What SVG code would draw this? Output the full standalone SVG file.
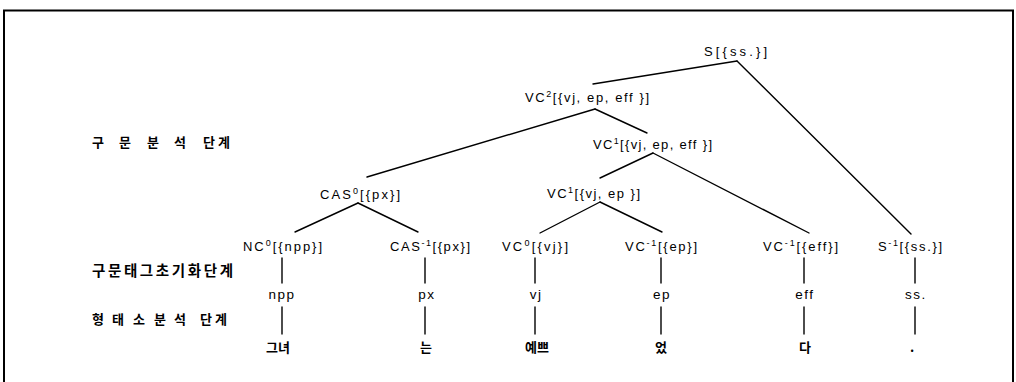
<svg xmlns="http://www.w3.org/2000/svg" width="1016" height="382" viewBox="0 0 1016 382">
<style>
.t{font-family:"Liberation Sans",Arial,sans-serif;font-size:13px;fill:#000}
.m{font-family:"Liberation Sans",Arial,sans-serif;font-size:13.5px;fill:#000;text-anchor:middle;letter-spacing:1.5px}
.s{font-size:9px}
.k{font-family:"Noto Sans CJK KR","Noto Sans",sans-serif;font-size:13px;font-weight:bold;fill:#000}
.w{font-family:"Noto Sans CJK KR","Noto Sans",sans-serif;font-size:13px;font-weight:bold;fill:#000;text-anchor:middle}
.c{stroke:#000;stroke-width:1.4;fill:none;stroke-linecap:round}
</style>
<rect x="0" y="0" width="1016" height="382" fill="#fff"/>
<path d="M4,400 V10.5 H1013 V400" fill="none" stroke="#000" stroke-width="2"/>

<g id="stages">
<text class="k" y="147"><tspan x="92">구</tspan><tspan x="119">문</tspan><tspan x="147">분</tspan><tspan x="174">석</tspan><tspan x="203">단</tspan><tspan x="218">계</tspan></text>
<text class="k" x="92" y="276" style="font-size:14.5px" textLength="141" lengthAdjust="spacing">구문태그초기화단계</text>
<text class="k" y="324"><tspan x="92">형</tspan><tspan x="112">태</tspan><tspan x="133">소</tspan><tspan x="154">분</tspan><tspan x="174">석</tspan><tspan x="200">단</tspan><tspan x="215">계</tspan></text>
</g>

<g id="connectors" class="c">
<line x1="737" y1="61" x2="593" y2="84"/>
<line x1="737" y1="61" x2="911" y2="234"/>
<line x1="595" y1="109" x2="367" y2="177"/>
<line x1="595" y1="109" x2="647" y2="133"/>
<line x1="653" y1="153" x2="600" y2="178"/>
<line x1="653" y1="153" x2="809" y2="233"/>
<line x1="358" y1="203" x2="295" y2="232"/>
<line x1="358" y1="203" x2="418" y2="232"/>
<line x1="600" y1="202" x2="540" y2="233"/>
<line x1="600" y1="202" x2="662" y2="232"/>
<line x1="282" y1="258" x2="282" y2="283"/>
<line x1="282" y1="307" x2="282" y2="334"/>
<line x1="425" y1="258" x2="425" y2="283"/>
<line x1="425" y1="307" x2="425" y2="334"/>
<line x1="535" y1="258" x2="535" y2="283"/>
<line x1="535" y1="307" x2="535" y2="334"/>
<line x1="661" y1="258" x2="661" y2="283"/>
<line x1="661" y1="307" x2="661" y2="334"/>
<line x1="804" y1="258" x2="804" y2="283"/>
<line x1="804" y1="307" x2="804" y2="334"/>
<line x1="915" y1="258" x2="915" y2="283"/>
<line x1="915" y1="307" x2="915" y2="334"/>
</g>

<g id="n-S"><text class="t" x="704" y="56" textLength="63" lengthAdjust="spacing">S[{ss.}]</text></g>
<g id="n-VC2"><text class="t" x="525" y="102" textLength="124" lengthAdjust="spacing">VC<tspan class="s" dy="-5">2</tspan><tspan dy="5">[{vj, ep, eff }]</tspan></text></g>
<g id="n-VC1a"><text class="t" x="593" y="149" textLength="119" lengthAdjust="spacing">VC<tspan class="s" dy="-5">1</tspan><tspan dy="5">[{vj, ep, eff }]</tspan></text></g>
<g id="n-VC1b"><text class="t" x="547" y="198" textLength="93" lengthAdjust="spacing">VC<tspan class="s" dy="-5">1</tspan><tspan dy="5">[{vj, ep }]</tspan></text></g>
<g id="n-CAS0"><text class="t" x="320" y="199" textLength="80" lengthAdjust="spacing">CAS<tspan class="s" dy="-5">0</tspan><tspan dy="5">[{px}]</tspan></text></g>
<g id="n-NC0"><text class="t" x="243" y="251" textLength="79" lengthAdjust="spacing">NC<tspan class="s" dy="-5">0</tspan><tspan dy="5">[{npp}]</tspan></text></g>
<g id="n-CASm1"><text class="t" x="390" y="251" textLength="80" lengthAdjust="spacing">CAS<tspan class="s" dy="-5">-1</tspan><tspan dy="5">[{px}]</tspan></text></g>
<g id="n-VC0"><text class="t" x="502" y="251" textLength="66" lengthAdjust="spacing">VC<tspan class="s" dy="-5">0</tspan><tspan dy="5">[{vj}]</tspan></text></g>
<g id="n-VCm1ep"><text class="t" x="625" y="251" textLength="72" lengthAdjust="spacing">VC<tspan class="s" dy="-5">-1</tspan><tspan dy="5">[{ep}]</tspan></text></g>
<g id="n-VCm1eff"><text class="t" x="763" y="251" textLength="75" lengthAdjust="spacing">VC<tspan class="s" dy="-5">-1</tspan><tspan dy="5">[{eff}]</tspan></text></g>
<g id="n-Sm1"><text class="t" x="878" y="251" textLength="64" lengthAdjust="spacing">S<tspan class="s" dy="-5">-1</tspan><tspan dy="5">[{ss.}]</tspan></text></g>

<g id="n-npp"><text class="m" x="282" y="299">npp</text></g>
<g id="n-px"><text class="m" x="427" y="299">px</text></g>
<g id="n-vj"><text class="m" x="536" y="299">vj</text></g>
<g id="n-ep"><text class="m" x="662" y="299">ep</text></g>
<g id="n-eff"><text class="m" x="805" y="299">eff</text></g>
<g id="n-ss"><text class="m" x="916" y="299">ss.</text></g>

<g id="w-1"><text class="w" x="278" y="352">그녀</text></g>
<g id="w-2"><text class="w" x="426" y="352">는</text></g>
<g id="w-3"><text class="w" x="537" y="352">예쁘</text></g>
<g id="w-4"><text class="w" x="661" y="352">었</text></g>
<g id="w-5"><text class="w" x="805" y="352">다</text></g>
<g id="w-6"><text class="w" x="912" y="352">.</text></g>
</svg>
